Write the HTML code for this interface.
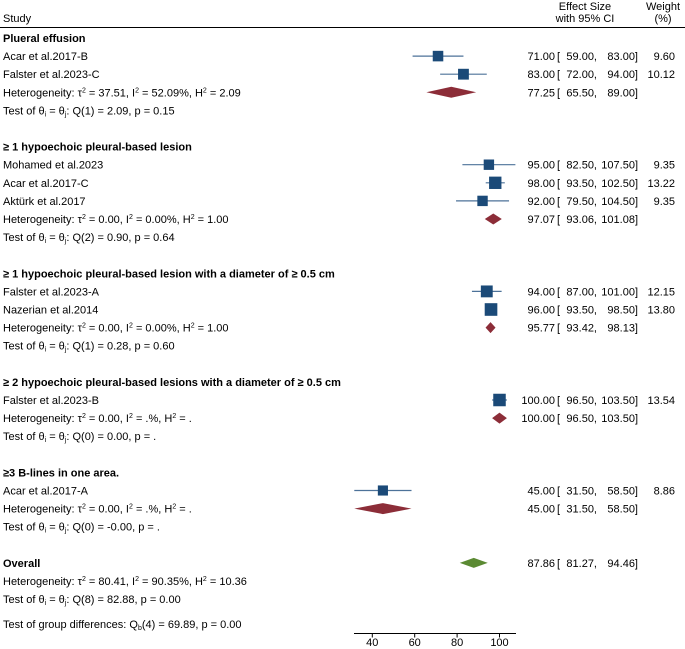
<!DOCTYPE html>
<html><head><meta charset="utf-8"><style>
html,body{margin:0;padding:0;background:#fff}
svg{display:block;font-family:"Liberation Sans",Arial,sans-serif;font-size:11px;fill:#000}
.b{font-weight:bold}
</style></head><body>
<svg id="c" width="685" height="649" viewBox="0 0 685 649">
<text x="3" y="22">Study</text>
<text x="585" y="10" text-anchor="middle">Effect Size</text>
<text x="585" y="22" text-anchor="middle">with 95% CI</text>
<text x="663" y="10" text-anchor="middle">Weight</text>
<text x="663" y="22" text-anchor="middle">(%)</text>
<line x1="0" y1="27.5" x2="685" y2="27.5" stroke="#000" stroke-width="1"/>
<g id="rows"></g>
<g id="axis"></g>
</svg>
<script>
// data
const studyLabels = ["Acar et al.2017-B","Falster et al.2023-C","Mohamed et al.2023","Acar et al.2017-C","Aktürk et al.2017","Falster et al.2023-A","Nazerian et al.2014","Falster et al.2023-B","Acar et al.2017-A"];
const studyEst = [71,83,95,98,92,94,96,100,45];
const studyLo = [59,72,82.5,93.5,79.5,87,93.5,96.5,31.5];
const studyHi = [83,94,107.5,102.5,104.5,101,98.5,103.5,58.5];
const studyWeight = [9.60,10.12,9.35,13.22,9.35,12.15,13.80,13.54,8.86];
const studyGroup = [0,0,1,1,1,2,2,3,4];
const groupNames = ["Plueral effusion","≥ 1 hypoechoic pleural-based lesion","≥ 1 hypoechoic pleural-based lesion with a diameter of ≥ 0.5 cm","≥ 2 hypoechoic pleural-based lesions with a diameter of ≥ 0.5 cm","≥3 B-lines in one area."];
const groupEst = [77.25,97.07,95.77,100,45];
const groupLo = [65.5,93.06,93.42,96.5,31.5];
const groupHi = [89,101.08,98.13,103.5,58.5];
const groupHet = ["Heterogeneity: τ<tspan dy='-4' font-size='7'>2</tspan><tspan dy='4'> = 37.51, I</tspan><tspan dy='-4' font-size='7'>2</tspan><tspan dy='4'> = 52.09%, H</tspan><tspan dy='-4' font-size='7'>2</tspan><tspan dy='4'> = 2.09</tspan>",
"Heterogeneity: τ<tspan dy='-4' font-size='7'>2</tspan><tspan dy='4'> = 0.00, I</tspan><tspan dy='-4' font-size='7'>2</tspan><tspan dy='4'> = 0.00%, H</tspan><tspan dy='-4' font-size='7'>2</tspan><tspan dy='4'> = 1.00</tspan>",
"Heterogeneity: τ<tspan dy='-4' font-size='7'>2</tspan><tspan dy='4'> = 0.00, I</tspan><tspan dy='-4' font-size='7'>2</tspan><tspan dy='4'> = 0.00%, H</tspan><tspan dy='-4' font-size='7'>2</tspan><tspan dy='4'> = 1.00</tspan>",
"Heterogeneity: τ<tspan dy='-4' font-size='7'>2</tspan><tspan dy='4'> = 0.00, I</tspan><tspan dy='-4' font-size='7'>2</tspan><tspan dy='4'> = .%, H</tspan><tspan dy='-4' font-size='7'>2</tspan><tspan dy='4'> = .</tspan>",
"Heterogeneity: τ<tspan dy='-4' font-size='7'>2</tspan><tspan dy='4'> = 0.00, I</tspan><tspan dy='-4' font-size='7'>2</tspan><tspan dy='4'> = .%, H</tspan><tspan dy='-4' font-size='7'>2</tspan><tspan dy='4'> = .</tspan>"];
const groupTest = ["Q(1) = 2.09, p = 0.15","Q(2) = 0.90, p = 0.64","Q(1) = 0.28, p = 0.60","Q(0) = 0.00, p = .","Q(0) = -0.00, p = ."];
const overallEst = 87.86, overallLo = 81.27, overallHi = 94.46;
const xTicks = [40,60,80,100];

const X = v => 372.3 + (v - 40) * 2.12;
const rowY = i => 38 + i * 18.1;
const NS = "http://www.w3.org/2000/svg";
const rows = document.getElementById('rows');
function mk(tag, attrs, parent){const e=document.createElementNS(NS,tag);for(const k in attrs)e.setAttribute(k,attrs[k]);(parent||rows).appendChild(e);return e;}
function txt(x,y,html,anchor,cls){const t=mk('text',{x:x,y:y+4,'text-anchor':anchor||'start'});if(cls)t.setAttribute('class',cls);t.innerHTML=html;return t;}
function f2(v){return v.toFixed(2);}
function numbers(y,e,l,h,w){
  const a=txt(555,y,f2(e),'end');
  
  
  const b=txt(557,y,'[','start');
  
  
  const c=txt(597,y,f2(l)+',','end');
  
  
  const d=txt(638,y,f2(h)+']','end');
  
  
  if(w!==undefined){const g=txt(675,y,f2(w),'end');
    
    }
}
function diamond(y,e,l,h,color,hh){
  const p=mk('polygon',{points:`${X(l)},${y} ${X(e)},${y-hh} ${X(h)},${y} ${X(e)},${y+hh}`,fill:color});
  return p;
}
let r=0;
for(let g=0;g<groupNames.length;g++){
  const hy=rowY(r);
  const ht=txt(3,hy,groupNames[g],'start','b');
  
  
  r++;
  for(let s=0;s<studyLabels.length;s++){
    if(studyGroup[s]!==g)continue;
    const y=rowY(r);
    const lt=txt(3,y,studyLabels[s]);
    
    
    const ln=mk('line',{x1:X(studyLo[s]),x2:X(studyHi[s]),y1:y,y2:y,stroke:'#4d7299','stroke-width':1.2});
    
    
    const sd=3.4*Math.sqrt(studyWeight[s]);
    const sq=mk('rect',{x:X(studyEst[s])-sd/2,y:y-sd/2,width:sd,height:sd,fill:'#1b4a78'});
    
    
    numbers(y,studyEst[s],studyLo[s],studyHi[s],studyWeight[s]);
    r++;
  }
  let y=rowY(r);
  const het=txt(3,y,groupHet[g]);
  
  
  const dm=diamond(y,groupEst[g],groupLo[g],groupHi[g],'#8c2d38',5.5);
  
  
  numbers(y,groupEst[g],groupLo[g],groupHi[g]);
  r++;
  y=rowY(r);
  const tt=txt(3,y,"Test of θ<tspan dy='2' font-size='7'>i</tspan><tspan dy='-2'> = θ</tspan><tspan dy='2' font-size='7'>j</tspan><tspan dy='-2'>: "+groupTest[g]+"</tspan>");
  
  
  r+=2;
}
let oy=rowY(r);
const ot=txt(3,oy,'Overall','start','b');


const od=diamond(oy,overallEst,overallLo,overallHi,'#5b8a33',5);


numbers(oy,overallEst,overallLo,overallHi);
const oh=txt(3,rowY(r+1),"Heterogeneity: τ<tspan dy='-4' font-size='7'>2</tspan><tspan dy='4'> = 80.41, I</tspan><tspan dy='-4' font-size='7'>2</tspan><tspan dy='4'> = 90.35%, H</tspan><tspan dy='-4' font-size='7'>2</tspan><tspan dy='4'> = 10.36</tspan>");


const otest=txt(3,rowY(r+2),"Test of θ<tspan dy='2' font-size='7'>i</tspan><tspan dy='-2'> = θ</tspan><tspan dy='2' font-size='7'>j</tspan><tspan dy='-2'>: Q(8) = 82.88, p = 0.00</tspan>");


const gd=txt(3,624,"Test of group differences: Q<tspan dy='2' font-size='7'>b</tspan><tspan dy='-2'>(4) = 69.89, p = 0.00</tspan>");



const ax=document.getElementById('axis');
const al=mk('line',{x1:354,x2:516,y1:633.5,y2:633.5,stroke:'#000','stroke-width':1},ax);


for(const t of xTicks){
  const tk=mk('line',{x1:X(t),x2:X(t),y1:633.5,y2:637.5,stroke:'#000','stroke-width':1},ax);
  
  
  const tl=mk('text',{x:X(t),y:649-3,'text-anchor':'middle'},ax);
  tl.textContent=t;
  
  
}
</script>
</body></html>
